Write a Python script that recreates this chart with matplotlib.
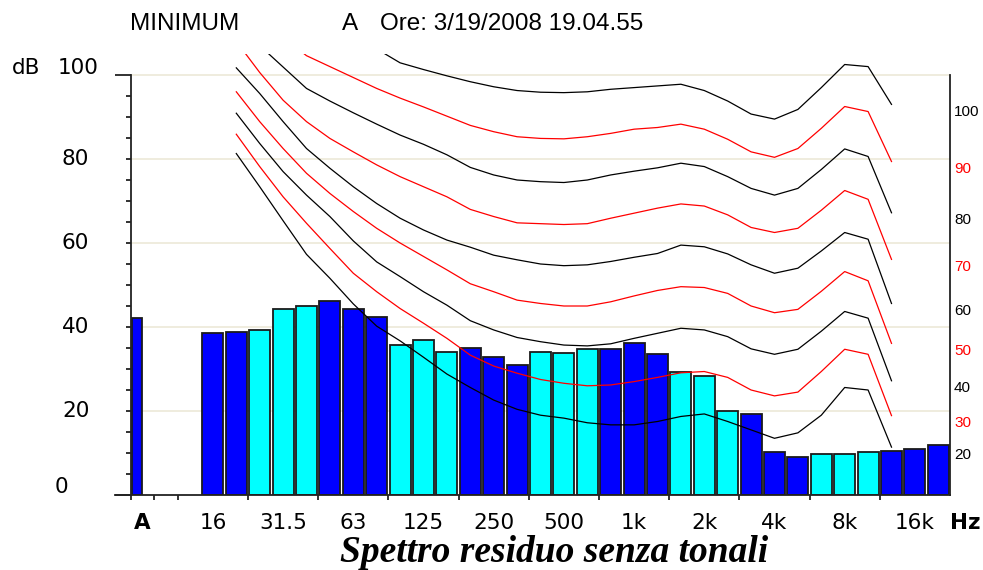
import numpy as np
import matplotlib.pyplot as plt
from matplotlib.transforms import blended_transform_factory

plt.rcParams['font.family'] = ['Liberation Sans', 'DejaVu Sans']

# A-weighted total and 1/3 octave band levels (16 Hz .. 20 kHz)
a_level = 42.1
band_levels = [38.5, 38.7, 39.4, 44.4, 44.9, 46.3, 44.2, 42.3, 35.6, 36.9,
               34.0, 35.1, 32.8, 31.0, 34.1, 33.8, 34.8, 34.8, 36.2, 33.6,
               29.2, 28.3, 20.0, 19.3, 10.2, 9.1, 9.7, 9.7, 10.2, 10.5,
               11.0, 12.0]
tick_text = ['16', '31.5', '63', '125', '250', '500', '1k', '2k', '4k', '8k', '16k']

# equal loudness contours, 20 Hz .. 12.5 kHz
phon = [100, 90, 80, 70, 60, 50, 40, 30, 20]
c100 = [130, 126, 122, 118, 114, 110, 106.2, 102.9, 101.3, 99.8, 98.4, 97.2, 96.3, 95.9,
        95.8, 96.0, 96.6, 97.0, 97.4, 97.8, 96.3, 93.8, 90.7, 89.5, 91.8, 97.0, 102.5, 102.0, 93.0]
c90 = [118, 114, 109, 104.6, 102.0, 99.4, 96.8, 94.5, 92.4, 90.2, 88.0, 86.5, 85.3, 84.9,
       84.8, 85.3, 86.1, 87.1, 87.5, 88.3, 87.1, 84.7, 81.7, 80.4, 82.5, 87.3, 92.5, 91.3, 79.4]
c80 = [112, 107, 101.9, 96.8, 93.8, 91.0, 88.3, 85.7, 83.5, 81.0, 78.0, 76.2, 75.0, 74.6,
       74.4, 75.0, 76.2, 77.1, 77.9, 79.0, 78.2, 75.8, 73.0, 71.4, 73.0, 77.5, 82.4, 80.6, 67.2]
c70 = [108, 100.6, 94.0, 88.9, 84.9, 81.7, 78.6, 75.8, 73.4, 71.0, 68.0, 66.3, 64.8, 64.6,
       64.4, 64.6, 65.9, 67.1, 68.3, 69.3, 68.8, 66.7, 63.7, 62.5, 63.5, 67.8, 72.5, 70.4, 56.1]
c60 = [101.7, 95.6, 88.9, 82.5, 77.8, 73.4, 69.4, 65.9, 63.1, 60.7, 59.0, 57.1, 56.0, 55.0,
       54.6, 54.8, 55.6, 56.6, 57.5, 59.5, 59.1, 57.4, 54.8, 52.8, 54.0, 58.1, 62.5, 60.9, 45.6]
c50 = [96.0, 88.9, 82.5, 76.6, 71.8, 67.5, 63.5, 60.0, 56.8, 53.6, 50.3, 48.4, 46.4, 45.6,
       45.0, 45.0, 46.0, 47.4, 48.7, 49.6, 49.4, 48.0, 45.0, 43.4, 44.2, 48.5, 53.2, 51.0, 36.1]
c40 = [90.9, 83.7, 77.0, 71.4, 66.3, 60.5, 55.5, 52.0, 48.4, 45.2, 41.5, 39.3, 37.5, 36.5,
       35.7, 35.5, 36.0, 37.3, 38.5, 39.7, 39.3, 37.7, 34.8, 33.5, 34.7, 39.0, 43.7, 42.1, 27.2]
c30 = [85.9, 78.2, 71.0, 64.7, 58.7, 52.8, 48.4, 44.4, 40.9, 37.3, 33.3, 30.7, 29.0, 27.5,
       26.6, 26.0, 26.2, 27.0, 28.0, 29.1, 29.4, 28.0, 25.0, 23.6, 24.5, 29.4, 34.7, 33.5, 18.9]
c20 = [81.3, 73.4, 65.3, 57.3, 51.6, 45.5, 40.2, 36.7, 32.8, 28.8, 25.6, 22.6, 20.4, 19.0,
       18.3, 17.2, 16.7, 16.7, 17.5, 18.7, 19.3, 17.5, 15.5, 13.5, 14.8, 19.0, 25.6, 25.0, 11.4]
contours = [c100, c90, c80, c70, c60, c50, c40, c30, c20]

num_font = 'DejaVu Sans'

fig = plt.figure(figsize=(9.83, 5.70), dpi=100)
ax = fig.add_axes([131 / 983, 75 / 570, 819 / 983, 441 / 570])
ax.set_xlim(0, 35)
ax.set_ylim(0, 105)

for g in range(20, 101, 20):
    ax.axhline(g, color='#ECE9D8', lw=1.2, zorder=0)

# bars: slot 0 is the A value, bands start at slot 3
x_band = np.arange(len(band_levels)) + 3.5
colors = ['#0000FF' if ((i + 1) // 3) % 2 == 0 else '#00FFFF' for i in range(len(band_levels))]
ax.bar(x_band, band_levels, width=0.9, color=colors, edgecolor='#1a1a1a', linewidth=1.3, zorder=2)
ax.bar(0.25, a_level, width=0.45, color='#0000FF', edgecolor='#1a1a1a', linewidth=1.3, zorder=2)

x_curve = np.arange(len(c100)) + 4.5
for p, vals in zip(phon, contours):
    col = 'black' if p % 20 == 0 else '#FF0000'
    ax.plot(x_curve, vals, color=col, lw=0.9, zorder=3)
    ax.text(35.17, vals[-1] - 1.8, str(p), color=col, fontsize=11, va='center', ha='left')

ax.spines['top'].set_visible(False)
for side in ['left', 'right', 'bottom']:
    ax.spines[side].set_color('#222222')
    ax.spines[side].set_linewidth(1.3)
ax.spines['left'].set_bounds(0, 100)
ax.spines['right'].set_bounds(0, 100)
ax.plot([-0.7, 0], [0, 0], color='#222222', lw=1.3, clip_on=False, zorder=4)

ax.set_yticks([0, 100])
ax.set_yticks(range(5, 100, 5), minor=True)
ax.tick_params(axis='y', which='major', length=11.5, width=1.3, color='#222222', labelleft=False)
ax.tick_params(axis='y', which='minor', length=3.6, width=1.3, color='#222222')

ax.set_xticks([0, 1, 2] + list(range(5, 33, 3)))
ax.set_xticklabels([])
ax.set_xticks([0.5] + [3.5 + 3 * k for k in range(len(tick_text))], minor=True)
ax.set_xticklabels(['A'] + tick_text, minor=True, fontsize=15.5, family=num_font)
ax.tick_params(axis='x', which='major', length=3.6, width=1.3, color='#222222')
ax.tick_params(axis='x', which='minor', length=0, pad=13)
ax.get_xticklabels(minor=True)[0].set_fontweight('bold')

trans = blended_transform_factory(fig.transFigure, ax.transData)
left_pos = {0: (55, 1.8), 20: (62, 0), 40: (62, 0), 60: (62, 0), 80: (62, 0), 100: (58, 1.6)}
for v, (px, dy) in left_pos.items():
    ax.text(px / 983, v + dy, str(v), transform=trans, ha='left', va='center',
            fontsize=15.5, family=num_font)
ax.text(12 / 983, 101.6, 'dB', transform=trans, ha='left', va='center', fontsize=15.5, family=num_font)
fig.text(950 / 983, 1 - 523 / 570, 'Hz', ha='left', va='center', fontsize=15.5,
         fontweight='bold', family=num_font)

fig.text(130 / 983, 1 - 24 / 570, 'MINIMUM', ha='left', va='center', fontsize=17.5)
fig.text(342 / 983, 1 - 24 / 570, 'A', ha='left', va='center', fontsize=17.5)
fig.text(380 / 983, 1 - 24 / 570, 'Ore: 3/19/2008 19.04.55', ha='left', va='center', fontsize=17.5)
fig.text(554 / 983, 1 - 552 / 570, 'Spettro residuo senza tonali', ha='center', va='center',
         fontsize=27, fontweight='bold', fontstyle='italic', family='Liberation Serif')

fig.savefig('out.png', dpi=100)
